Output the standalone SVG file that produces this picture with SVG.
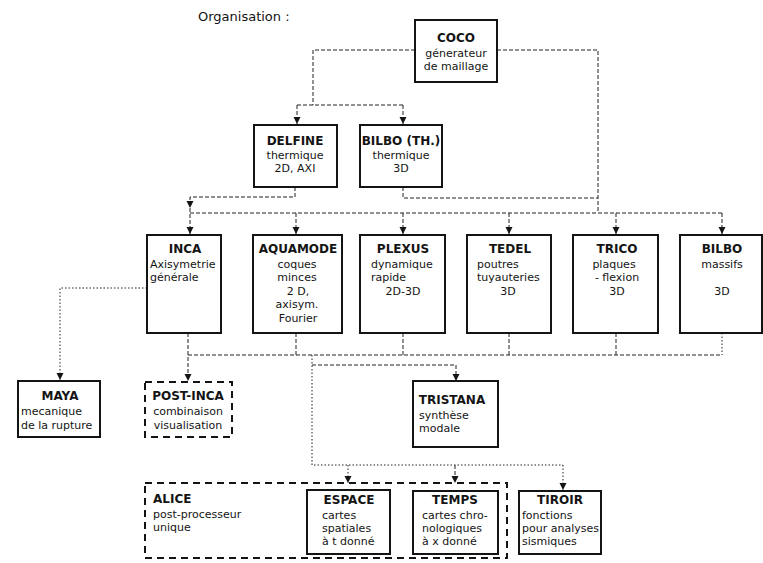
<svg xmlns="http://www.w3.org/2000/svg" width="763" height="563" viewBox="0 0 763 563">
<style>
.box{fill:#fff;stroke:#141414;stroke-width:2}
.dbox{fill:none;stroke:#141414;stroke-width:2;stroke-dasharray:7 5}
.t{font-family:"DejaVu Sans","Liberation Sans",sans-serif;font-size:12px;font-weight:bold;fill:#141414;text-anchor:middle}
.b{font-family:"DejaVu Sans","Liberation Sans",sans-serif;font-size:11px;fill:#141414}
.m{text-anchor:middle}
.c{fill:none;stroke:#222;stroke-width:1;stroke-dasharray:4 2}
.d{fill:none;stroke:#222;stroke-width:1;stroke-dasharray:1.5 2}
.a{marker-end:url(#arr)}
</style>
<defs>
<marker id="arr" markerUnits="userSpaceOnUse" markerWidth="8" markerHeight="8" refX="7" refY="3.5" orient="auto">
<path d="M0,0 L7,3.5 L0,7 z" fill="#141414"/>
</marker>
</defs>
<rect width="763" height="563" fill="#fff"/>
<text x="198" y="21" class="b" style="font-size:13px">Organisation :</text>

<g id="connectors">
<path class="c" d="M415,50 H313 V105"/>
<path class="c" d="M297,105 H403"/>
<path class="c a" d="M297,105 V124"/>
<path class="c a" d="M403,105 V124"/>
<path class="c" d="M497,50 H598 V213"/>
<path class="c" d="M403,187 V198 H598"/>
<path class="c a" d="M295,187 V197 H190 V208"/>
<path class="c a" d="M190,208 V234"/>
<path class="c" d="M190,213 H722"/>
<path class="c a" d="M296,213 V234"/>
<path class="c a" d="M403,213 V234"/>
<path class="c a" d="M509,213 V234"/>
<path class="c a" d="M616,213 V234"/>
<path class="c a" d="M722,213 V234"/>
<path class="c a" d="M188,333 V381"/>
<path class="c" d="M188,355 H722"/>
<path class="c" d="M296,333 V355"/>
<path class="c" d="M403,333 V355"/>
<path class="c" d="M509,333 V355"/>
<path class="c" d="M616,333 V355"/>
<path class="d" d="M722,333 V355"/>
<path class="d a" d="M147,288 H60 V380"/>
<path class="d" d="M312,355 V465 H563"/>
<path class="c a" d="M312,365 H456 V381"/>
<path class="d a" d="M348,465 V483"/>
<path class="c a" d="M455,465 V483"/>
<path class="d a" d="M563,465 V490"/>
</g>

<g id="coco">
<rect class="box" x="415" y="20" width="82" height="62"/>
<text class="t" x="456" y="42">COCO</text>
<text class="b m" x="456" y="57">génerateur</text>
<text class="b m" x="456" y="70">de maillage</text>
</g>

<g id="delfine">
<rect class="box" x="254" y="125" width="83" height="62"/>
<text class="t" x="295" y="145">DELFINE</text>
<text class="b m" x="295" y="159">thermique</text>
<text class="b m" x="295" y="172">2D, AXI</text>
</g>

<g id="bilbo-th">
<rect class="box" x="360" y="125" width="82" height="62"/>
<text class="t" x="401" y="145">BILBO (TH.)</text>
<text class="b m" x="401" y="159">thermique</text>
<text class="b m" x="401" y="172">3D</text>
</g>

<g id="inca">
<rect class="box" x="147" y="235" width="74" height="98"/>
<text class="t" x="185" y="253">INCA</text>
<text class="b" x="150" y="268">Axisymetrie</text>
<text class="b" x="150" y="281">générale</text>
</g>

<g id="aquamode">
<rect class="box" x="253" y="235" width="89" height="98"/>
<text class="t" x="298" y="253">AQUAMODE</text>
<text class="b m" x="297" y="268">coques</text>
<text class="b m" x="297" y="281">minces</text>
<text class="b m" x="298" y="295">2 D,</text>
<text class="b m" x="297" y="308">axisym.</text>
<text class="b m" x="298" y="322">Fourier</text>
</g>

<g id="plexus">
<rect class="box" x="360" y="235" width="85" height="98"/>
<text class="t" x="403" y="253">PLEXUS</text>
<text class="b" x="371" y="268">dynamique</text>
<text class="b" x="371" y="281">rapide</text>
<text class="b m" x="403" y="295">2D-3D</text>
</g>

<g id="tedel">
<rect class="box" x="467" y="235" width="84" height="98"/>
<text class="t" x="510" y="253">TEDEL</text>
<text class="b" x="477" y="268">poutres</text>
<text class="b" x="477" y="281">tuyauteries</text>
<text class="b m" x="508" y="295">3D</text>
</g>

<g id="trico">
<rect class="box" x="573" y="235" width="85" height="98"/>
<text class="t" x="617" y="253">TRICO</text>
<text class="b m" x="614" y="268">plaques</text>
<text class="b m" x="617" y="281">- flexion</text>
<text class="b m" x="617" y="295">3D</text>
</g>

<g id="bilbo">
<rect class="box" x="680" y="235" width="82" height="98"/>
<text class="t" x="722" y="253">BILBO</text>
<text class="b m" x="722" y="268">massifs</text>
<text class="b m" x="722" y="295">3D</text>
</g>

<g id="maya">
<rect class="box" x="18" y="381" width="82" height="56"/>
<text class="t" x="60" y="400">MAYA</text>
<text class="b" x="21" y="415">mecanique</text>
<text class="b" x="21" y="429">de la rupture</text>
</g>

<g id="post-inca">
<rect class="dbox" x="145" y="382" width="87" height="55"/>
<text class="t" x="188" y="400">POST-INCA</text>
<text class="b m" x="188" y="415">combinaison</text>
<text class="b m" x="188" y="429">visualisation</text>
</g>

<g id="tristana">
<rect class="box" x="413" y="381" width="85" height="66"/>
<text class="t" x="452" y="404">TRISTANA</text>
<text class="b" x="419" y="419">synthèse</text>
<text class="b" x="419" y="432">modale</text>
</g>

<g id="alice">
<rect class="dbox" x="145" y="483" width="362" height="75"/>
<text class="t" x="153" y="503" style="text-anchor:start">ALICE</text>
<text class="b" x="153" y="518">post-processeur</text>
<text class="b" x="153" y="531">unique</text>
</g>

<g id="espace">
<rect class="box" x="307" y="490" width="83" height="64"/>
<text class="t" x="349" y="504">ESPACE</text>
<text class="b" x="322" y="519">cartes</text>
<text class="b" x="322" y="532">spatiales</text>
<text class="b" x="322" y="545">à t donné</text>
</g>

<g id="temps">
<rect class="box" x="413" y="491" width="85" height="63"/>
<text class="t" x="455" y="504">TEMPS</text>
<text class="b" x="422" y="519">cartes chro-</text>
<text class="b" x="422" y="532">nologiques</text>
<text class="b" x="422" y="545">à x donné</text>
</g>

<g id="tiroir">
<rect class="box" x="519" y="491" width="82" height="63"/>
<text class="t" x="560" y="504">TIROIR</text>
<text class="b" x="522" y="519">fonctions</text>
<text class="b" x="522" y="532">pour analyses</text>
<text class="b" x="522" y="545">sismiques</text>
</g>
</svg>
